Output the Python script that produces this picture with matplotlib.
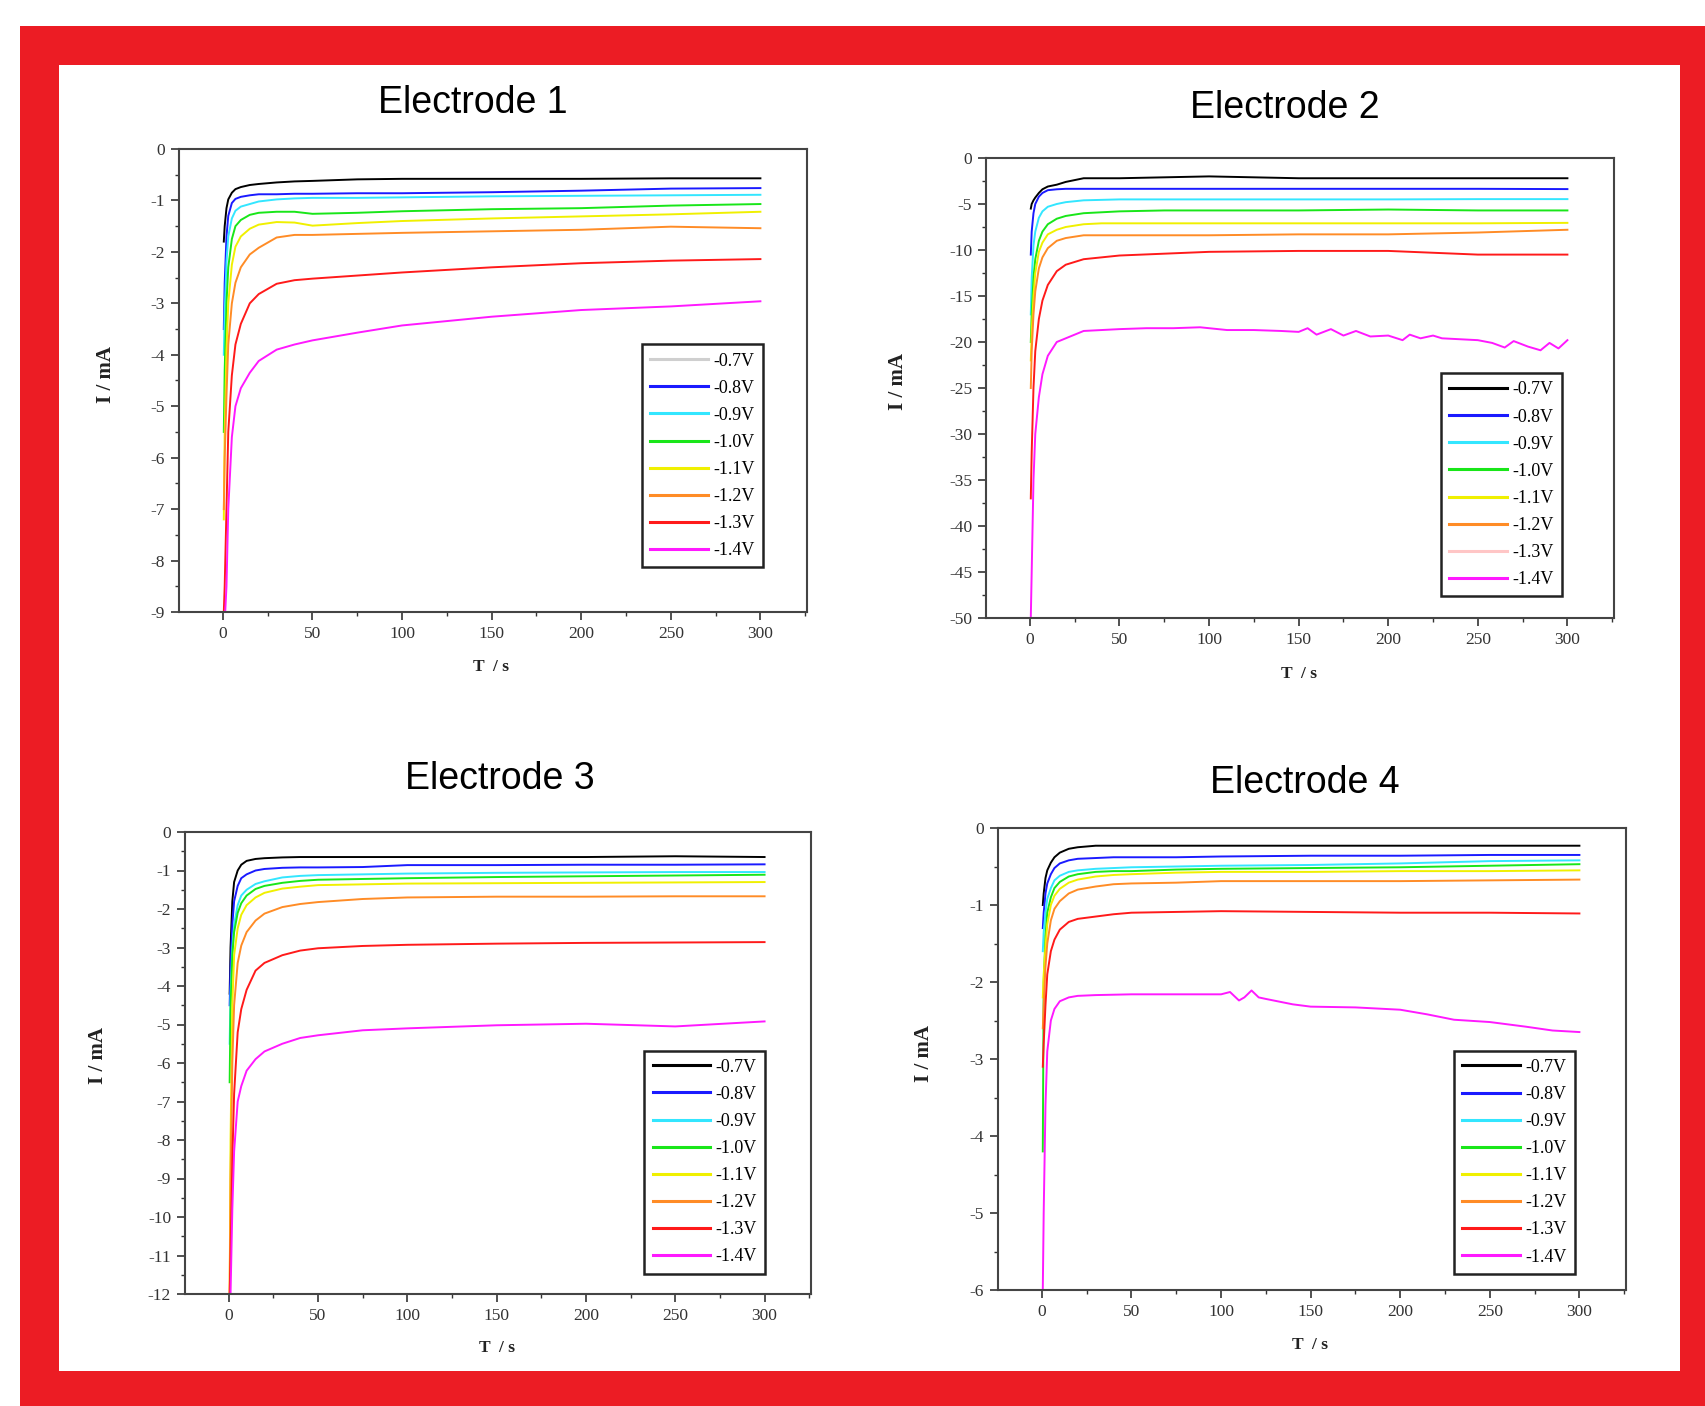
import matplotlib
matplotlib.use("Agg")
import matplotlib.pyplot as plt
from matplotlib.patches import Rectangle
from matplotlib.lines import Line2D
from matplotlib.ticker import MultipleLocator

plt.rcParams['axes.unicode_minus'] = False

W, H = 1705, 1406

labels = ['-0.7V', '-0.8V', '-0.9V', '-1.0V', '-1.1V', '-1.2V', '-1.3V', '-1.4V']
colors = ['#000000', '#1a1aff', '#33e6ff', '#19e619', '#f0f000', '#ff8c26', '#ff1a1a', '#ff19ff']

# time grid (s) shared by the smooth curves
t = [0.5, 1, 2, 3, 5, 7, 10, 15, 20, 30, 40, 50, 75, 100, 150, 200, 250, 300]

# Electrode 1 (mA)
e1 = [
    [-1.8, -1.5, -1.15, -0.98, -0.85, -0.78, -0.74, -0.70, -0.68, -0.65, -0.63, -0.62, -0.59, -0.58, -0.58, -0.58, -0.57, -0.57],
    [-3.5, -2.6, -1.7, -1.3, -1.05, -0.97, -0.93, -0.90, -0.88, -0.88, -0.87, -0.87, -0.86, -0.86, -0.84, -0.81, -0.77, -0.76],
    [-4.0, -3.2, -2.2, -1.7, -1.35, -1.2, -1.12, -1.07, -1.02, -0.98, -0.96, -0.95, -0.95, -0.94, -0.92, -0.91, -0.90, -0.89],
    [-5.5, -4.3, -3.0, -2.3, -1.75, -1.5, -1.38, -1.28, -1.24, -1.22, -1.22, -1.26, -1.24, -1.21, -1.17, -1.15, -1.10, -1.07],
    [-7.2, -5.5, -3.9, -3.0, -2.25, -1.9, -1.7, -1.55, -1.47, -1.42, -1.43, -1.49, -1.44, -1.40, -1.35, -1.31, -1.27, -1.22],
    [-7.0, -6.0, -4.8, -3.8, -3.0, -2.6, -2.3, -2.05, -1.92, -1.72, -1.67, -1.67, -1.65, -1.63, -1.60, -1.57, -1.51, -1.54],
    [-9.0, -8.5, -7.0, -5.5, -4.4, -3.8, -3.4, -3.0, -2.82, -2.62, -2.55, -2.52, -2.46, -2.40, -2.30, -2.22, -2.17, -2.14],
    [-9.5, -9.2, -8.5, -7.0, -5.6, -5.0, -4.65, -4.35, -4.12, -3.90, -3.80, -3.72, -3.57, -3.43, -3.26, -3.13, -3.06, -2.96],
]

# Electrode 2 (mA), last curve has its own noisy time base
e2 = [
    [-5.5, -5.0, -4.6, -4.3, -3.8, -3.4, -3.1, -2.9, -2.6, -2.2, -2.2, -2.2, -2.1, -2.0, -2.2, -2.2, -2.2, -2.2],
    [-10.5, -8.0, -6.0, -5.0, -4.2, -3.8, -3.5, -3.4, -3.35, -3.35, -3.35, -3.35, -3.35, -3.35, -3.35, -3.35, -3.35, -3.38],
    [-17, -13, -9.5, -8.0, -6.5, -5.8, -5.3, -5.0, -4.8, -4.6, -4.55, -4.5, -4.5, -4.5, -4.5, -4.5, -4.47, -4.47],
    [-20, -17, -13, -11, -9.0, -8.0, -7.2, -6.6, -6.3, -6.0, -5.9, -5.8, -5.7, -5.7, -5.7, -5.6, -5.7, -5.7],
    [-22, -19, -15, -12.5, -10.2, -9.2, -8.3, -7.8, -7.5, -7.2, -7.1, -7.1, -7.1, -7.1, -7.1, -7.1, -7.1, -7.05],
    [-25, -21, -17, -14.5, -12, -10.8, -9.8, -9.0, -8.7, -8.4, -8.4, -8.4, -8.4, -8.4, -8.3, -8.3, -8.1, -7.8],
    [-37, -32, -25, -21, -17.5, -15.5, -13.8, -12.3, -11.6, -11.0, -10.8, -10.6, -10.4, -10.2, -10.1, -10.1, -10.5, -10.5],
]
t2_m = [0.5, 1, 2, 3, 5, 7, 10, 15, 20, 30, 50, 65, 80, 95, 110, 125, 140, 150, 155, 160, 168, 175, 182, 190, 200,
        208, 212, 218, 225, 230, 240, 250, 258, 265, 270, 278, 285, 290, 295, 300]
e2_m = [-50, -45, -35, -30, -26, -23.5, -21.5, -20.0, -19.6, -18.8, -18.6, -18.5, -18.5, -18.4, -18.7, -18.7, -18.8, -18.9,
        -18.5, -19.2, -18.6, -19.3, -18.8, -19.4, -19.3, -19.8, -19.2, -19.6, -19.3, -19.6, -19.7, -19.8, -20.1, -20.6,
        -19.9, -20.5, -20.9, -20.1, -20.7, -19.8]

# Electrode 3 (mA)
e3 = [
    [-4.2, -3.0, -1.8, -1.3, -1.0, -0.85, -0.75, -0.70, -0.68, -0.66, -0.65, -0.65, -0.65, -0.65, -0.65, -0.65, -0.63, -0.65],
    [-4.5, -3.5, -2.4, -1.8, -1.4, -1.2, -1.1, -1.0, -0.96, -0.93, -0.92, -0.92, -0.91, -0.86, -0.86, -0.85, -0.85, -0.84],
    [-5.5, -4.2, -3.0, -2.4, -1.9, -1.65, -1.5, -1.35, -1.28, -1.18, -1.14, -1.12, -1.10, -1.08, -1.06, -1.05, -1.04, -1.04],
    [-6.5, -4.6, -3.2, -2.6, -2.1, -1.85, -1.65, -1.48, -1.40, -1.32, -1.27, -1.24, -1.22, -1.20, -1.17, -1.15, -1.13, -1.11],
    [-12, -8.0, -4.5, -3.2, -2.5, -2.15, -1.9, -1.7, -1.58, -1.47, -1.42, -1.38, -1.36, -1.34, -1.33, -1.32, -1.31, -1.30],
    [-12, -9.0, -6.0, -4.5, -3.4, -2.95, -2.6, -2.3, -2.12, -1.95, -1.87, -1.82, -1.74, -1.70, -1.68, -1.68, -1.67, -1.67],
    [-12, -11, -8.5, -6.8, -5.2, -4.6, -4.1, -3.6, -3.4, -3.2, -3.08, -3.02, -2.96, -2.93, -2.9, -2.88, -2.87, -2.86],
    [-12, -12, -9.8, -8.3, -7.0, -6.6, -6.2, -5.9, -5.7, -5.5, -5.35, -5.28, -5.15, -5.1, -5.02, -4.98, -5.05, -4.92],
]

# Electrode 4 (mA), last curve has its own time base
e4 = [
    [-1.0, -0.85, -0.65, -0.55, -0.45, -0.38, -0.32, -0.27, -0.25, -0.23, -0.23, -0.23, -0.23, -0.23, -0.23, -0.23, -0.23, -0.23],
    [-1.3, -1.1, -0.85, -0.72, -0.6, -0.52, -0.46, -0.42, -0.40, -0.39, -0.38, -0.38, -0.38, -0.37, -0.36, -0.36, -0.35, -0.35],
    [-1.6, -1.35, -1.1, -0.92, -0.78, -0.68, -0.62, -0.57, -0.55, -0.53, -0.52, -0.51, -0.50, -0.49, -0.48, -0.46, -0.43, -0.42],
    [-4.2, -2.0, -1.4, -1.1, -0.9, -0.78, -0.7, -0.63, -0.60, -0.57, -0.56, -0.56, -0.54, -0.53, -0.52, -0.51, -0.49, -0.47],
    [-2.2, -1.9, -1.55, -1.25, -1.0, -0.88, -0.79, -0.71, -0.67, -0.63, -0.61, -0.60, -0.58, -0.57, -0.57, -0.56, -0.56, -0.55],
    [-2.6, -2.3, -1.8, -1.5, -1.2, -1.05, -0.95, -0.85, -0.80, -0.76, -0.73, -0.72, -0.71, -0.69, -0.69, -0.69, -0.68, -0.67],
    [-3.1, -2.8, -2.3, -1.9, -1.6, -1.45, -1.32, -1.22, -1.18, -1.15, -1.12, -1.10, -1.09, -1.08, -1.09, -1.10, -1.10, -1.11],
]
t4_m = [0.5, 1, 2, 3, 5, 7, 10, 15, 20, 30, 50, 75, 100, 105, 110, 113, 117, 121, 125, 140, 150, 175, 200, 215, 230,
        250, 270, 285, 300]
e4_m = [-6.0, -5.0, -3.6, -2.9, -2.5, -2.35, -2.25, -2.2, -2.18, -2.17, -2.16, -2.16, -2.16, -2.13, -2.24, -2.2, -2.11,
        -2.2, -2.22, -2.29, -2.32, -2.33, -2.36, -2.42, -2.49, -2.52, -2.58, -2.63, -2.65]

fig = plt.figure(figsize=(W / 100, H / 100), dpi=100)
fig.patches.append(Rectangle((20 / W, 0), 1 - 20 / W, (H - 26) / H, transform=fig.transFigure,
                             facecolor='#ec1c24', edgecolor='none', zorder=-10))
fig.patches.append(Rectangle((59 / W, 1 - 1371 / H), (1680 - 59) / W, (1371 - 65) / H, transform=fig.transFigure,
                             facecolor='white', edgecolor='none', zorder=-9))

serif = 'Liberation Serif'


def px_ax(l, r, top, bot):
    return [l / W, 1 - bot / H, (r - l) / W, (bot - top) / H]


panels = [
    # axes box (px), ylim, major, minor, title pos, ylabel pos, xlabel pos, legend corner (axes frac), legend recolor
    dict(box=(179, 807, 149, 612), ylim=-9, maj=1, mn=0.5, title=(473, 103, 'Electrode 1'),
         yl=(106, 375), xl=(491, 667), leg=(0.737, 0.578), odd={0: '#cfcfcf'}),
    dict(box=(986, 1614, 158, 618), ylim=-50, maj=5, mn=2.5, title=(1285, 108, 'Electrode 2'),
         yl=(898, 381), xl=(1299, 674), leg=(0.724, 0.532), odd={6: '#ffc6c6'}),
    dict(box=(185, 811, 832, 1294), ylim=-12, maj=1, mn=0.5, title=(500, 779, 'Electrode 3'),
         yl=(98, 1055), xl=(497, 1348), leg=(0.734, 0.527), odd={}),
    dict(box=(998, 1626, 828, 1290), ylim=-6, maj=1, mn=0.5, title=(1305, 783, 'Electrode 4'),
         yl=(924, 1053), xl=(1310, 1345), leg=(0.726, 0.518), odd={}),
]
data = [e1, e2, e3, e4]
extra = [None, (t2_m, e2_m), None, (t4_m, e4_m)]

for p, d, ex in zip(panels, data, extra):
    ax = fig.add_axes(px_ax(*p['box']))
    for i, ys in enumerate(d):
        ax.plot(t, ys, color=colors[i], lw=1.4)
    if ex is not None:
        ax.plot(ex[0], ex[1], color=colors[7], lw=1.4)
    ax.set_xlim(-24.5, 326)
    ax.set_ylim(p['ylim'], 0)
    ax.xaxis.set_major_locator(MultipleLocator(50))
    ax.xaxis.set_minor_locator(MultipleLocator(25))
    ax.yaxis.set_major_locator(MultipleLocator(p['maj']))
    ax.yaxis.set_minor_locator(MultipleLocator(p['mn']))
    ax.tick_params(which='major', direction='out', length=6, width=1.2, color='#333333',
                   labelsize=12.5, labelcolor='#333333', pad=4)
    ax.tick_params(which='minor', direction='out', length=3, width=1.0, color='#333333')
    for lab in ax.get_xticklabels() + ax.get_yticklabels():
        lab.set_fontfamily(serif)
    for s in ax.spines.values():
        s.set_color('#444444')
        s.set_linewidth(1.5)

    handles = []
    for i, lab in enumerate(labels):
        c = p['odd'].get(i, colors[i])
        handles.append(Line2D([], [], color=c, lw=2.2))
    leg = ax.legend(handles, labels, loc='upper left', bbox_to_anchor=p['leg'], borderaxespad=0,
                    prop={'family': serif, 'size': 13}, handlelength=3.2, handletextpad=0.3,
                    labelspacing=0.56, borderpad=0.45, fancybox=False, framealpha=1)
    leg.get_frame().set_edgecolor('#222222')
    leg.get_frame().set_linewidth(1.8)

    tx, ty, tt = p['title']
    fig.text(tx / W, 1 - ty / H, tt, ha='center', va='center', fontsize=27, family='Liberation Sans')
    fig.text(p['yl'][0] / W, 1 - p['yl'][1] / H, 'I / mA', rotation=90, ha='center', va='center',
             fontsize=15, family=serif, weight='bold', color='#222222')
    fig.text(p['xl'][0] / W, 1 - p['xl'][1] / H, 'T  / s', ha='center', va='center',
             fontsize=12.5, family=serif, weight='bold', color='#222222')

fig.savefig('out.png', dpi=100)
